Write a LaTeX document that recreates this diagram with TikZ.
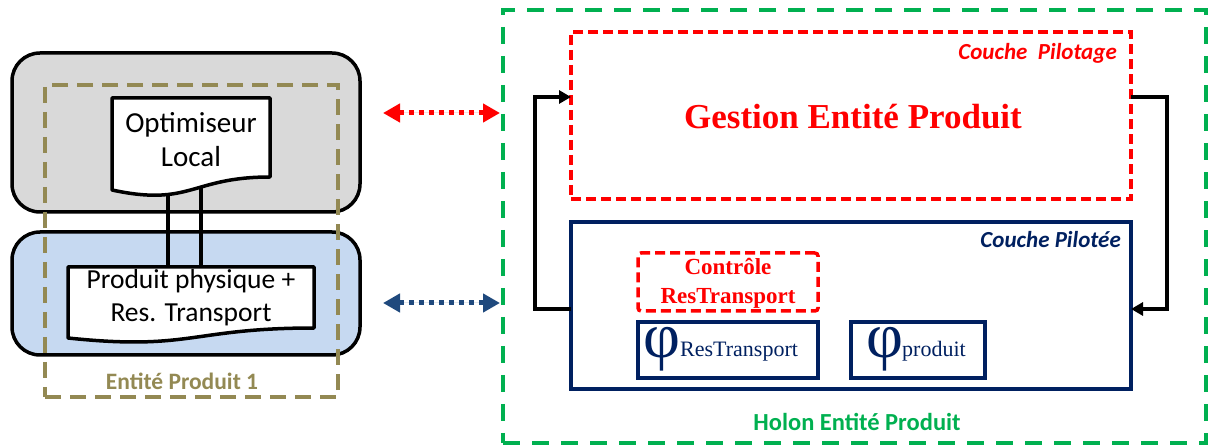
\documentclass[tikz,border=0pt]{standalone}
\usepackage{fontspec}
\setmainfont{Liberation Serif}
\newfontfamily\calfont{Carlito}
\usetikzlibrary{arrows.meta,calc}
\definecolor{olivec}{HTML}{938953}
\definecolor{greenc}{HTML}{00B050}
\definecolor{navyc}{HTML}{002060}
\definecolor{bluearrow}{HTML}{1F497D}
\definecolor{grayfill}{HTML}{D9D9D9}
\definecolor{bluefill}{HTML}{C6D9F1}
\definecolor{redc}{HTML}{FF0000}
\tikzset{
  box/.style={rectangle, inner sep=0pt, outer sep=0pt},
  roundbox/.style={box, draw=black, line width=3.5pt, rounded corners=28pt},
  olivedash/.style={box, draw=olivec, line width=3.5pt, dash pattern=on 16pt off 9pt},
  greendash/.style={box, draw=greenc, line width=3.5pt, dash pattern=on 17pt off 12pt},
  reddash/.style={box, draw=redc, line width=3.5pt, dash pattern=on 10pt off 5pt},
  navybox/.style={box, draw=navyc, line width=3.5pt},
  docshape/.style={draw=black, fill=white, line width=3.5pt, line join=round},
  link/.style={draw=black, line width=4.5pt},
  dotarrow/.style={line width=5pt, dash pattern=on 5pt off 5pt,
     {Triangle[length=17pt,width=18pt]}-{Triangle[length=17pt,width=18pt]}},
  fb/.style={draw=black, line width=3.5pt, -{Triangle[length=12pt,width=13pt]}},
  caltext/.style={font=\calfont\fontsize{29}{34}\selectfont, align=center, inner sep=0pt},
  phitext/.style={font=\fontsize{64}{64}\selectfont, text=navyc, inner sep=0pt, anchor=base west},
  subtext/.style={font=\fontsize{22}{22}\selectfont, text=navyc, inner sep=0pt, anchor=base west},
}
\begin{document}
\begin{tikzpicture}[x=1pt,y=-1pt]
\useasboundingbox (0,0) rectangle (1208,446);
% left part
\node[roundbox, fill=grayfill, minimum width=348pt, minimum height=159pt] (optarea) at (186,132.5) {};
\node[roundbox, fill=bluefill, minimum width=348pt, minimum height=123pt] (prodarea) at (186,293.5) {};
\node[olivedash, minimum width=293pt, minimum height=312pt] (entite) at (191.5,241) {};
\node[font=\calfont\bfseries\fontsize{23.5}{23.5}\selectfont, text=olivec, inner sep=0pt] (entitelbl) at (182,381) {Entité Produit 1};
% links
\coordinate (l1t) at (168,185);
\coordinate (l1b) at (168,267);
\coordinate (l2t) at (201,185);
\coordinate (l2b) at (201,267);
\draw[link] (l1t) -- (l1b);
\draw[link] (l2t) -- (l2b);
% document shapes
\draw[docshape] (112,98) -- (270,98) -- (270,177) .. controls (191,177) and (191,207) .. (112,190) -- cycle;
\draw[docshape] (68,267) -- (314,267) -- (314,328) .. controls (191,328) and (191,351) .. (68,338) -- cycle;
\node[caltext] (opt) at (191,140) {Optimiseur\\Local};
\node[caltext, font=\calfont\fontsize{27.5}{33}\selectfont] (prod) at (191,298) {Produit physique +\\Res. Transport};
% dotted arrows
\coordinate (ra) at (383,113);
\coordinate (rb) at (500,113);
\coordinate (ba) at (383,303);
\coordinate (bb) at (500,303);
\draw[dotarrow, draw=redc, fill=redc] (ra) -- (rb);
\draw[dotarrow, draw=bluearrow, fill=bluearrow] (ba) -- (bb);
% right part
\node[greendash, minimum width=703pt, minimum height=433pt] (holon) at (854.5,226.5) {};
\node[font=\calfont\bfseries\fontsize{24.5}{24.5}\selectfont, text=greenc, inner sep=0pt] (holonlbl) at (857,422) {Holon Entité Produit};
\node[reddash, minimum width=560pt, minimum height=167pt] (pilotage) at (851,115.5) {};
\node[navybox, minimum width=560pt, minimum height=167pt] (pilotee) at (851,305.5) {};
\node[font=\calfont\bfseries\itshape\fontsize{23}{23}\selectfont, text=redc, inner sep=0pt, anchor=east] (pilotagelbl) at (1117,53) {Couche\ \ Pilotage};
\node[font=\calfont\bfseries\itshape\fontsize{23}{23}\selectfont, text=navyc, inner sep=0pt, anchor=east] (piloteelbl) at (1121,240) {Couche Pilotée};
\node[font=\bfseries\fontsize{35}{35}\selectfont, text=redc, inner sep=0pt] (gestion) at (853,117) {Gestion Entité Produit};
% controle box
\node[reddash, rounded corners=3pt, minimum width=180pt, minimum height=58pt] (controle) at (728,282) {};
\node[font=\bfseries\fontsize{23}{29}\selectfont, text=redc, align=center, inner sep=0pt] (controlelbl) at (728,283) {Contrôle\\ResTransport};
% phi boxes
\node[navybox, minimum width=180pt, minimum height=56pt] (phires) at (728,350) {};
\node[navybox, minimum width=134pt, minimum height=56pt] (phiprod) at (918,350) {};
\node[phitext] (phi1) at (643,358) {φ};
\node[subtext] (sub1) at (680,357) {ResTransport};
\node[phitext] (phi2) at (866,358) {φ};
\node[subtext] (sub2) at (902,357) {produit};
% feedback loop
\draw[fb] ([yshift=-3.5pt]pilotee.west) -- ++(-36,0) |- ([yshift=18.5pt]pilotage.west);
\draw[fb] ([yshift=18.5pt]pilotage.east) -- ++(36,0) |- ([yshift=-3.5pt]pilotee.east);
\end{tikzpicture}
\end{document}
